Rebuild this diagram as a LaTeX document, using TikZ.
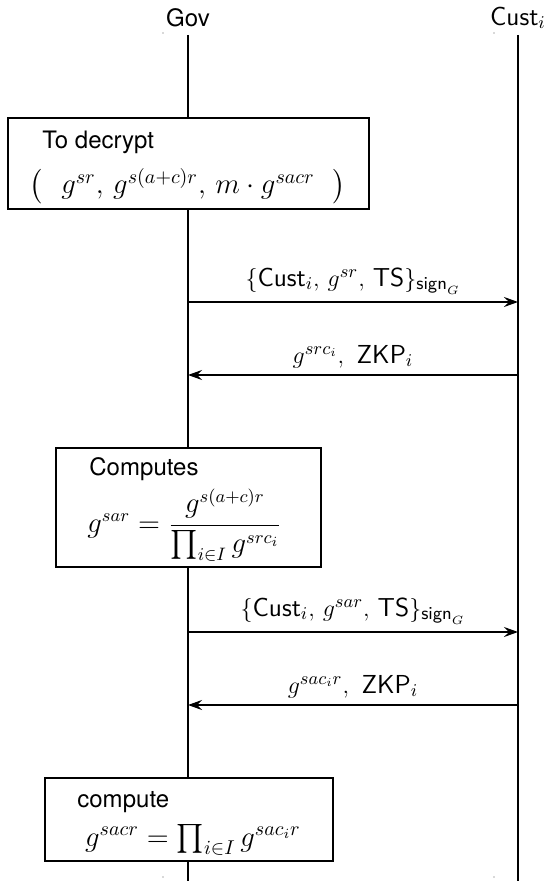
\documentclass[tikz,border=0pt]{standalone}
\usepackage{amsmath}
\usepackage{fontspec}
\newfontfamily\helv{TeX Gyre Heros}
\usetikzlibrary{arrows.meta}

\tikzset{
  lifeline/.style={semithick},
  msg/.style={semithick,-{Stealth[length=7pt,width=5pt,inset=2.5pt]}},
  stepbox/.style={draw,fill=white,semithick,inner sep=0pt},
  boxtitle/.style={anchor=west,inner sep=0pt,font=\large\helv},
  boxmath/.style={inner sep=0pt,font=\fontsize{14}{17}\selectfont},
  msglabel/.style={above,font=\fontsize{13}{16}\selectfont},
}

\begin{document}
\begin{tikzpicture}[x=0.5pt,y=-0.5pt,font=\large]
\useasboundingbox (0,0) rectangle (548,881);

% parties
\node[font=\large\helv] (gov) at (188,18) {Gov};
\node[font=\fontsize{13}{16}\selectfont] (cust) at (518,18) {$\textsf{Cust}_i$};

\fill[gray!60] (163,33) circle[radius=0.4pt];
\fill[gray!60] (494,33) circle[radius=0.4pt];
\fill[gray!60] (163,877) circle[radius=0.4pt];
\fill[gray!60] (494,877) circle[radius=0.4pt];

\coordinate (govtop) at (188,35);
\coordinate (govbot) at (188,881);
\coordinate (custtop) at (518,35);
\coordinate (custbot) at (518,881);

\draw[lifeline] (govtop) -- (govbot);
\draw[lifeline] (custtop) -- (custbot);

% message ends on the lifelines
\coordinate (gov1) at (188,302);
\coordinate (cust1) at (518,302);
\coordinate (gov2) at (188,375);
\coordinate (cust2) at (518,375);
\coordinate (gov3) at (188,632);
\coordinate (cust3) at (518,632);
\coordinate (gov4) at (188,705);
\coordinate (cust4) at (518,705);

% decrypt box
\node[stepbox,minimum width=180.5pt,minimum height=45.5pt] (decrypt) at (188.5,163.5) {};
\node[boxtitle] (decrypttitle) at (42,142) {To decrypt};
\node[boxmath] (decryptmath) at (188,186) {$\bigl(\ \ g^{sr},\, g^{s(a+c)r},\, m\cdot g^{sacr}\ \ \bigr)$};

\draw[msg] (gov1) -- node[msglabel] (m1) {$\{\textsf{Cust}_i,\, g^{sr},\, \textsf{TS}\}_{\textsf{sign}_G}$} (cust1);
\draw[msg] (cust2) -- node[msglabel] (m2) {$g^{src_i},\ \textsf{ZKP}_i$} (gov2);

% computes box
\node[stepbox,minimum width=132.5pt,minimum height=59.5pt] (computes) at (188.5,507.5) {};
\node[boxtitle] (computestitle) at (89,469) {Computes};
\node[boxmath,anchor=west,font=\fontsize{13.5}{16}\selectfont] (computesmath) at (87,525) {$g^{sar}=\dfrac{g^{s(a+c)r}}{\prod_{i\in I}g^{src_i}}$};

\draw[msg] (gov3) -- node[msglabel] (m3) {$\{\textsf{Cust}_i,\, g^{sar},\, \textsf{TS}\}_{\textsf{sign}_G}$} (cust3);
\draw[msg] (cust4) -- node[msglabel] (m4) {$g^{sac_ir},\ \textsf{ZKP}_i$} (gov4);

% compute box
\node[stepbox,minimum width=144pt,minimum height=41.5pt] (compute) at (189,819.5) {};
\node[boxtitle] (computetitle) at (77,802) {compute};
\node[boxmath] (computemath) at (193,840) {$g^{sacr}=\prod_{i\in I}g^{sac_ir}$};
\end{tikzpicture}
\end{document}
